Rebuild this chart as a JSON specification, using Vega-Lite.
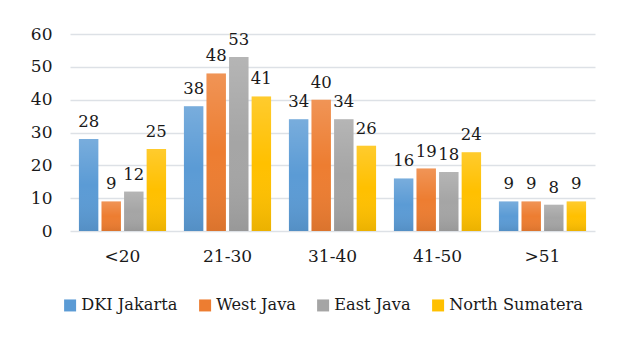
{
  "$schema": "https://vega.github.io/schema/vega-lite/v6.json",
  "width": 525,
  "height": 197,
  "autosize": {"type": "none"},
  "padding": {"left": 70, "top": 34, "right": 26, "bottom": 107},
  "background": "white",
  "config": {
    "font": "DejaVu Serif",
    "view": {"stroke": null},
    "axis": {"labelFont": "DejaVu Serif", "labelFontSize": 17, "labelColor": "#1a1a1a"},
    "legend": {"labelFont": "DejaVu Serif"}
  },
  "data": {
    "values": [
      {"age": "<20", "region": "DKI Jakarta", "value": 28},
      {"age": "<20", "region": "West Java", "value": 9},
      {"age": "<20", "region": "East Java", "value": 12},
      {"age": "<20", "region": "North Sumatera", "value": 25},
      {"age": "21-30", "region": "DKI Jakarta", "value": 38},
      {"age": "21-30", "region": "West Java", "value": 48},
      {"age": "21-30", "region": "East Java", "value": 53},
      {"age": "21-30", "region": "North Sumatera", "value": 41},
      {"age": "31-40", "region": "DKI Jakarta", "value": 34},
      {"age": "31-40", "region": "West Java", "value": 40},
      {"age": "31-40", "region": "East Java", "value": 34},
      {"age": "31-40", "region": "North Sumatera", "value": 26},
      {"age": "41-50", "region": "DKI Jakarta", "value": 16},
      {"age": "41-50", "region": "West Java", "value": 19},
      {"age": "41-50", "region": "East Java", "value": 18},
      {"age": "41-50", "region": "North Sumatera", "value": 24},
      {"age": ">51", "region": "DKI Jakarta", "value": 9},
      {"age": ">51", "region": "West Java", "value": 9},
      {"age": ">51", "region": "East Java", "value": 8},
      {"age": ">51", "region": "North Sumatera", "value": 9}
    ]
  },
  "encoding": {
    "x": {
      "field": "age", "type": "nominal", "sort": null,
      "scale": {"paddingInner": 0.17, "paddingOuter": 0.085},
      "axis": {"title": null, "labelAngle": 0, "domain": false, "ticks": false, "labelPadding": 17, "grid": false}
    },
    "xOffset": {
      "field": "region", "type": "nominal", "sort": ["DKI Jakarta", "West Java", "East Java", "North Sumatera"],
      "scale": {"paddingInner": 0.14, "paddingOuter": 0}
    },
    "y": {
      "field": "value", "type": "quantitative",
      "scale": {"domain": [0, 60], "nice": false},
      "axis": {"title": null, "values": [0, 10, 20, 30, 40, 50, 60], "domain": false, "ticks": false, "labelPadding": 18, "gridColor": "#dde1e6", "gridWidth": 1.5}
    }
  },
  "layer": [
    {
      "mark": {"type": "bar"},
      "encoding": {
        "color": {
          "field": "region", "type": "nominal",
          "sort": ["DKI Jakarta", "West Java", "East Java", "North Sumatera"],
          "scale": {"domain": ["DKI Jakarta", "West Java", "East Java", "North Sumatera"], "range": ["#5b9bd5", "#ed7d31", "#a5a5a5", "#ffc000"]},
          "legend": {
            "title": null, "orient": "none", "direction": "horizontal",
            "legendX": -8, "legendY": 263,
            "symbolType": "square", "symbolSize": 144, "symbolStrokeWidth": 0,
            "labelFontSize": 16.2, "labelColor": "#1a1a1a",
            "columnPadding": 19, "symbolOffset": 0, "labelOffset": 3
          }
        }
      }
    },
    {
      "mark": {
        "type": "bar",
        "fill": {
          "gradient": "linear", "x1": 0, "y1": 0, "x2": 0, "y2": 1,
          "stops": [
            {"offset": 0, "color": "rgba(255,255,255,0.18)"},
            {"offset": 0.5, "color": "rgba(255,255,255,0)"},
            {"offset": 1, "color": "rgba(0,0,0,0.08)"}
          ]
        }
      }
    },
    {
      "mark": {"type": "text", "baseline": "bottom", "dy": -9, "fontSize": 16.5, "color": "#1a1a1a", "font": "DejaVu Serif"},
      "encoding": {"text": {"field": "value", "type": "quantitative"}}
    }
  ]
}
